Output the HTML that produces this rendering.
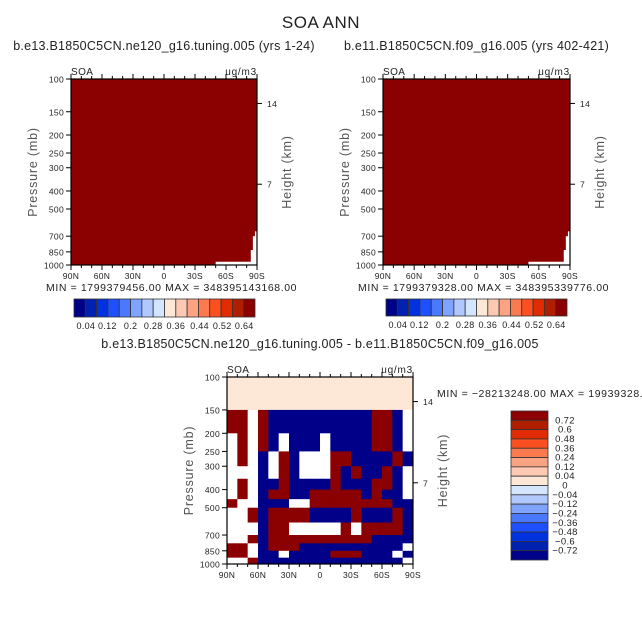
<!DOCTYPE html>
<html><head><meta charset="utf-8"><style>
html,body{margin:0;padding:0;background:#fff;}
svg{display:block;font-family:"Liberation Sans",sans-serif;}
</style></head><body>
<svg id="s" width="642" height="642" viewBox="0 0 642 642" xmlns="http://www.w3.org/2000/svg">
<text x="321" y="28" font-size="17" text-anchor="middle" fill="#222" letter-spacing="0.5">SOA ANN</text>
</svg>
<script>
// ---- data ----
const latTicks = ["90N","60N","30N","0","30S","60S","90S"];
const presTicks = [100,150,200,250,300,400,500,700,850,1000];
const heightTicks = [14,7];
const cbarColors = ["#000088","#0020b0","#0032e0","#1f50ff","#4a78ff","#7ea4ff","#b0c8ff","#d4e6ff","#fde8d8","#fdc9b2","#fca383","#fc7a50","#fd4f1f","#e02c00","#b01e00","#8b0000"];
const cbarLabelsTop = ["0.04","0.12","0.2","0.28","0.36","0.44","0.52","0.64"];
const cbarLabelIdx = [1.05,2.95,5,7,9,11.1,13.1,15.05];
const diffLevels = [-0.72,-0.6,-0.48,-0.36,-0.24,-0.12,-0.04,0,0.04,0.12,0.24,0.36,0.48,0.6,0.72];
const diffLabels = ["0.72","0.6","0.48","0.36","0.24","0.12","0.04","0","\u22120.04","\u22120.12","\u22120.24","\u22120.36","\u22120.48","\u22120.6","\u22120.72"];
// difference field: rows = pressure bands, columns = 10deg lat bins 90N->90S ; null = white
const rowEdges = [100,150,200,250,300,350,400,450,500,600,700,775,850,925,1000];
const R=0.8,B=-0.8,W=null,P=0.02;
const diffRows = [
 [P,P,P,P,P,P,P,P,P,P,P,P,P,P,P,P,P,P],
 [R,R,W,R,B,B,B,B,B,B,B,B,B,B,R,R,B,W],
 [W,R,W,R,B,W,B,B,B,W,B,B,B,B,R,R,B,W],
 [W,R,W,B,W,R,B,W,W,W,R,R,B,B,B,B,R,B],
 [W,W,W,B,W,R,B,W,W,W,R,B,R,B,B,R,B,W],
 [W,R,W,B,B,R,B,B,B,B,R,B,B,B,R,R,B,W],
 [W,R,W,B,R,R,B,B,R,R,R,R,R,B,R,B,B,W],
 [R,W,W,B,B,B,W,W,R,R,R,R,R,R,R,R,B,B],
 [W,W,R,B,R,R,R,R,B,B,B,B,R,B,B,B,R,B],
 [W,W,W,B,R,R,W,W,W,W,W,R,W,R,R,R,R,B],
 [W,W,R,B,R,R,R,R,R,R,R,R,R,R,B,B,B,B],
 [R,R,W,B,R,R,R,B,B,B,B,B,B,B,B,B,B,W],
 [R,R,W,B,B,W,B,B,B,B,R,R,R,B,B,B,W,B],
 [W,W,R,B,B,B,B,B,B,B,B,B,B,B,B,B,B,W]
];
// top panels: missing (white) region polygon in (lat, pressure)
const missingLat = [-50,-84,-84,-86,-86,-88,-88,-90,-90,-50];
const missingPres = [960,960,830,830,700,700,660,660,1000,1000];

const NS="http://www.w3.org/2000/svg";
const svg=document.getElementById('s');
function el(tag,attrs,parent){const e=document.createElementNS(NS,tag);for(const k in attrs)e.setAttribute(k,attrs[k]);(parent||svg).appendChild(e);return e;}
function txt(x,y,s,size,anchor,parent,ls){const t=el('text',{x:x,y:y,'font-size':size,'text-anchor':anchor||'start',fill:'#222','letter-spacing':ls||0.4},parent);t.textContent=s;return t;}
function colorFor(v){if(v===null)return '#fff';let i=0;while(i<diffLevels.length&&v>=diffLevels[i])i++;return cbarColors[i];}

function panel(name,x0,y0,w,h,title,minmax,kind){
 const g=el('g',{});
 
 
 const xs=lat=>x0+(90-lat)/180*w;
 const ys=p=>y0+Math.log10(p/100)*h;
 const tt=txt(x0+w/2,y0-29,title,12.5,'middle',g,0.25);
 
 
 if(kind==='abs'){
  const r=el('rect',{x:x0,y:y0,width:w,height:h,fill:'#8b0000'},g);
  
  
  const pts=missingLat.map((la,i)=>xs(la)+','+ys(missingPres[i])).join(' ');
  const pm=el('polygon',{points:pts,fill:'#fff'},g);
  
  
 } else {
  diffRows.forEach((row,ri)=>{
   row.forEach((v,ci)=>{
    const la=90-ci*10;
    const c=el('rect',{x:xs(la),y:ys(rowEdges[ri]),width:xs(la-10)-xs(la)+0.5,height:ys(rowEdges[ri+1])-ys(rowEdges[ri])+0.5,fill:colorFor(v)},g);
    
    
   });
  });
 }
 el('rect',{x:x0,y:y0,width:w,height:h,fill:'none',stroke:'#000','stroke-width':1.2},g);
 for(let la=90;la>=-90;la-=10){const X=xs(la);const L=(la%30===0)?5:3;
  el('line',{x1:X,y1:y0+h,x2:X,y2:y0+h+L,stroke:'#000'},g);
  el('line',{x1:X,y1:y0,x2:X,y2:y0-L,stroke:'#000'},g);}
 latTicks.forEach((s,i)=>{const t=txt(xs(90-i*30),y0+h+14,s,8.5,'middle',g,0.3);});
 presTicks.forEach(p=>{const Y=ys(p);el('line',{x1:x0-5,y1:Y,x2:x0,y2:Y,stroke:'#000'},g);
  const t=txt(x0-7,Y+3.5,String(p),8.5,'end',g,0.3);});
 heightTicks.forEach(hk=>{const p=1000*Math.exp(-hk/7);const Y=ys(p);el('line',{x1:x0+w,y1:Y,x2:x0+w+5,y2:Y,stroke:'#000'},g);
  const t=txt(x0+w+10,Y+3.5,String(hk),8.5,'start',g);});
 const yl=txt(0,0,'Pressure (mb)',12.5,'middle',g,0.8);yl.setAttribute('transform',`translate(${x0-34},${y0+h/2}) rotate(-90)`);yl.setAttribute('fill','#555');
 
 const hl=txt(0,0,'Height (km)',12.5,'middle',g,0.8);hl.setAttribute('transform',`translate(${x0+w+34},${y0+h/2}) rotate(-90)`);hl.setAttribute('fill','#555');
 
 const sa=txt(x0,y0-4,'SOA',10,'start',g);
 const un=txt(x0+w,y0-4,'ug/m3',10,'end',g,0.8);
 if(minmax){const m=el('text',{x:minmax[0],y:minmax[1],'font-size':10.5,fill:'#222','letter-spacing':0.6,'xml:space':'preserve'},g);m.textContent=minmax[2];
  }
 return g;
}
panel('panel-model-a',71,79,186,186,'b.e13.B1850C5CN.ne120_g16.tuning.005 (yrs 1-24)',[46,291,'MIN = 1799379456.00  MAX = 348395143168.00'],'abs');
panel('panel-model-b',383,79,187,186,'b.e11.B1850C5CN.f09_g16.005 (yrs 402-421)',[358,291,'MIN = 1799379328.00  MAX = 348395339776.00'],'abs');
panel('panel-difference',227,377,186,187,'b.e13.B1850C5CN.ne120_g16.tuning.005 - b.e11.B1850C5CN.f09_g16.005',[437,397,'MIN = \u221228213248.00  MAX = 19939328.'],'diff');

function hbar(name,x0,y0,w,h){
 const g=el('g',{});
 
 
 const bw=w/cbarColors.length;
 cbarColors.forEach((c,i)=>{const r=el('rect',{x:x0+i*bw,y:y0,width:bw,height:h,fill:c,stroke:'#333','stroke-width':0.8},g);
  });
 cbarLabelsTop.forEach((s,i)=>{const t=txt(x0+cbarLabelIdx[i]*bw,y0+h+12,s,9,'middle',g,0.3);});
}
hbar('colorbar-model-a',74,299,181,18);
hbar('colorbar-model-b',386,299,181,17);

(function(){
 const x0=511,y0=411,w=37,h=149;
 const g=el('g',{});
 
 
 const bh=h/cbarColors.length;
 cbarColors.slice().reverse().forEach((c,i)=>{const r=el('rect',{x:x0,y:y0+i*bh,width:w,height:bh,fill:c,stroke:'#333','stroke-width':0.8},g);
  });
 diffLabels.forEach((s,i)=>{const t=txt(x0+w+17,y0+(i+1)*bh+3,s,9.5,'middle',g,0.3);});
})();
</script>
</body></html>
